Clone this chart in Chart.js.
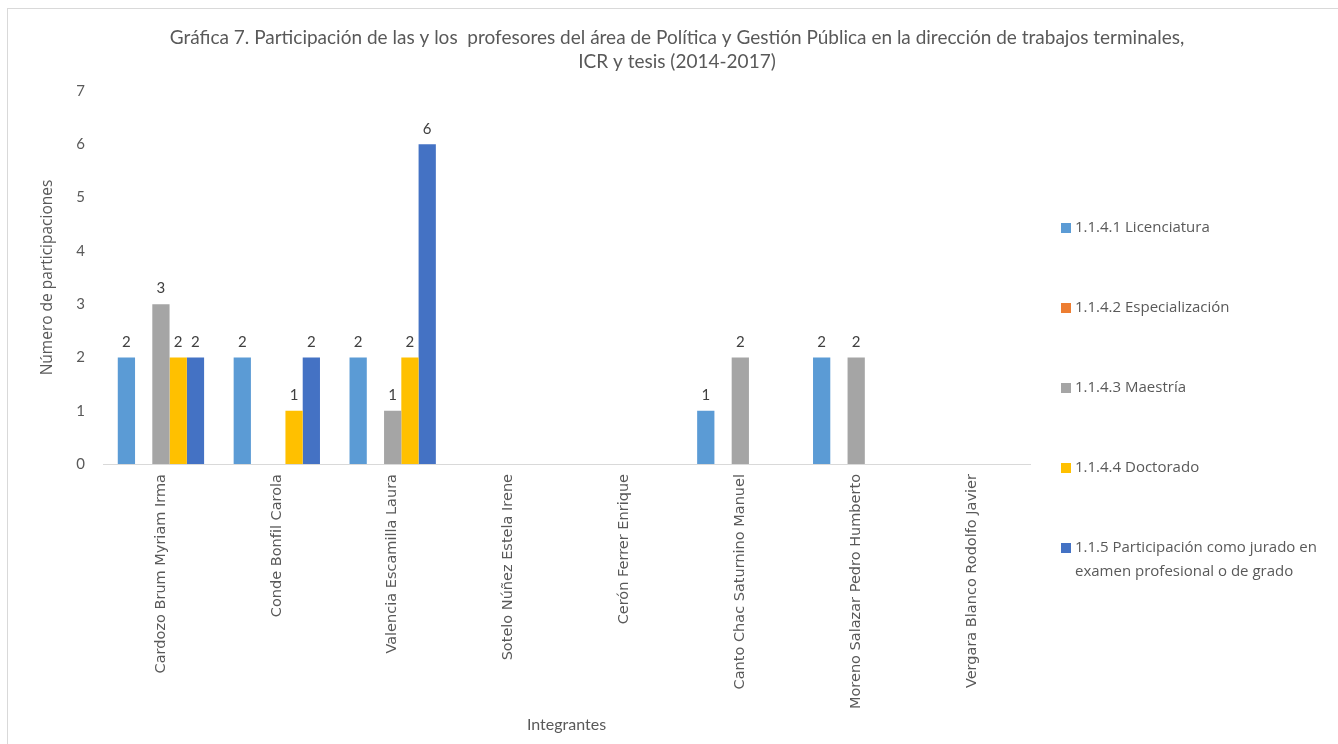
<!DOCTYPE html>
<html lang="es">
<head>
    <meta charset="UTF-8">
    <title>Gráfica 7</title>
    <script src="https://cdn.jsdelivr.net/npm/chart.js"></script>
    <style>
        body { margin: 0; background: #fff; }
        canvas { display: block; }
    </style>
</head>
<body>
    <canvas id="grafica" width="1338" height="744"></canvas>

    <script>
        // datos (null = sin participaciones)
        const integrantes = [
            "Cardozo Brum Myriam Irma", "Conde Bonfil Carola", "Valencia Escamilla Laura",
            "Sotelo Núñez Estela Irene", "Cerón Ferrer Enrique", "Canto Chac Saturnino Manuel",
            "Moreno Salazar Pedro Humberto", "Vergara Blanco Rodolfo Javier"
        ];
        const series = [
            "1.1.4.1 Licenciatura",
            "1.1.4.2 Especialización",
            "1.1.4.3 Maestría",
            "1.1.4.4 Doctorado",
            "1.1.5 Participación como jurado en examen profesional o de grado"
        ];
        const licenciatura    = [2, 2, 2, null, null, 1, 2, null];
        const especializacion = [null, null, null, null, null, null, null, null];
        const maestria        = [3, null, 1, null, null, 2, 2, null];
        const doctorado       = [2, 1, 2, null, null, null, null, null];
        const jurado          = [2, 2, 6, null, null, null, null, null];
        const colores = ["#5B9BD5", "#ED7D31", "#A5A5A5", "#FFC000", "#4472C4"];

        const titulo = [
            "Gráfica 7. Participación de las y los  profesores del área de Política y Gestión Pública en la dirección de trabajos terminales,",
            "ICR y tesis (2014-2017)"
        ];

        const gris = "#595959";

        // fondo, marco y titulo (centrado en todo el lienzo, como en Excel)
        const fondo = {
            id: "fondo",
            beforeDraw(chart) {
                const c = chart.ctx;
                c.save();
                c.fillStyle = "#fff";
                c.fillRect(0, 0, chart.width, chart.height);
                c.strokeStyle = "#D9D9D9";
                c.lineWidth = 1;
                c.strokeRect(7.5, 8.5, chart.width, chart.height);
                c.fillStyle = gris;
                c.font = "19px Lato";
                c.textAlign = "center";
                c.textBaseline = "middle";
                c.fillText(titulo[0], 677, 38);
                c.fillText(titulo[1], 677, 62);
                c.restore();
            }
        };

        // etiquetas de valor encima de cada barra
        const etiquetas = {
            id: "etiquetas",
            afterDatasetsDraw(chart) {
                const c = chart.ctx;
                c.save();
                c.font = "15px Lato";
                c.fillStyle = "#404040";
                c.textAlign = "center";
                c.textBaseline = "bottom";
                chart.data.datasets.forEach((ds, i) => {
                    chart.getDatasetMeta(i).data.forEach((bar, j) => {
                        if (ds.data[j] == null) return;
                        c.fillText(ds.data[j], bar.x, bar.y - 8);
                    });
                });
                c.restore();
            }
        };

        // leyenda a la derecha, con mucho espacio entre elementos
        const leyenda = {
            id: "leyenda",
            afterDraw(chart) {
                const c = chart.ctx;
                c.save();
                c.font = "15px 'Open Sans'";
                c.textBaseline = "middle";
                chart.data.datasets.forEach((ds, i) => {
                    const y = 228 + i * 80;
                    c.fillStyle = ds.backgroundColor;
                    c.fillRect(1061, y - 5, 10, 10);
                    c.fillStyle = gris;
                    if (i === 4) {
                        c.fillText("1.1.5 Participación como jurado en", 1075, y);
                        c.fillText("examen profesional o de grado", 1075, y + 24);
                    } else {
                        c.fillText(ds.label, 1075, y);
                    }
                });
                c.restore();
            }
        };

        const valores = [licenciatura, especializacion, maestria, doctorado, jurado];

        new Chart(document.getElementById("grafica"), {
            type: "bar",
            data: {
                labels: integrantes,
                datasets: valores.map((v, i) => ({
                    label: series[i],
                    data: v,
                    backgroundColor: colores[i],
                    barPercentage: 1.0,
                    categoryPercentage: 0.745
                }))
            },
            options: {
                responsive: false,
                animation: false,
                layout: { padding: { left: 30, right: 308, top: 91, bottom: 0 } },
                plugins: {
                    legend: { display: false },
                    tooltip: { enabled: false },
                    title: { display: false }
                },
                scales: {
                    x: {
                        grid: { display: false, drawTicks: false },
                        border: { display: true, color: "#D9D9D9" },
                        ticks: {
                            color: gris,
                            font: { family: "DejaVu Sans", size: 14.5 },
                            minRotation: 90,
                            maxRotation: 90,
                            padding: 10,
                            autoSkip: false
                        },
                        title: {
                            display: true,
                            text: "Integrantes",
                            color: gris,
                            font: { family: "Lato", size: 16 },
                            padding: { top: 0, bottom: 10 }
                        },
                        afterFit(scale) { scale.height = 280; }
                    },
                    y: {
                        min: 0,
                        max: 7,
                        grid: { display: false, drawTicks: false },
                        border: { display: false },
                        ticks: {
                            stepSize: 1,
                            color: gris,
                            font: { family: "Lato", size: 15 },
                            padding: 18
                        },
                        title: {
                            display: true,
                            text: "Número de participaciones",
                            color: gris,
                            font: { family: "Open Sans", size: 15.5 },
                            padding: { top: 8, bottom: 0 }
                        },
                        afterFit(scale) { scale.width = 73; }
                    }
                }
            },
            plugins: [fondo, etiquetas, leyenda]
        });
    </script>
</body>
</html>
